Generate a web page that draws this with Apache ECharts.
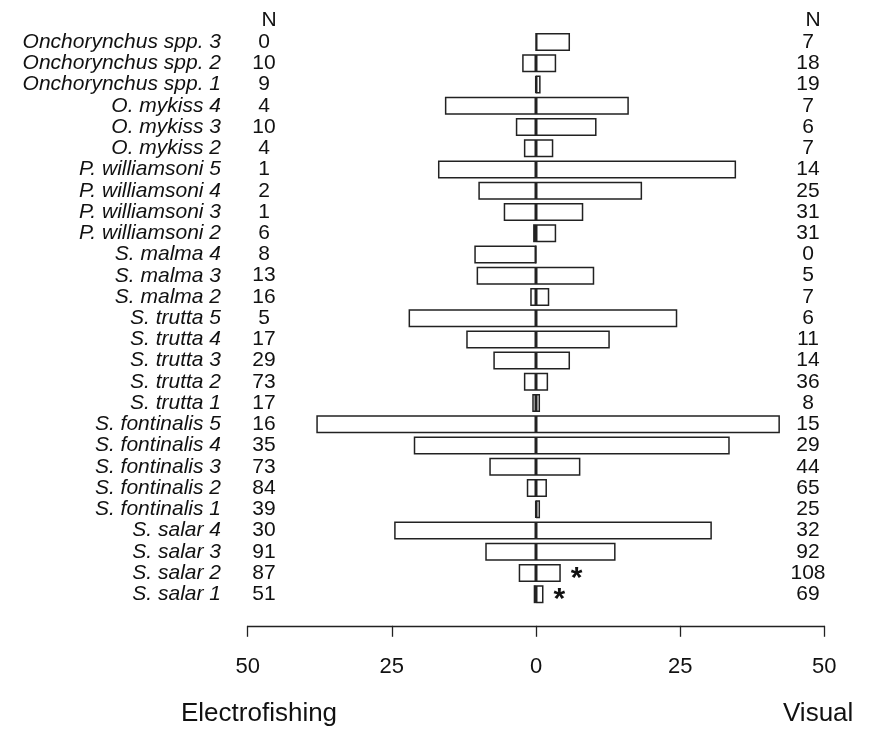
<!DOCTYPE html>
<html>
<head>
<meta charset="utf-8">
<script src="https://cdn.jsdelivr.net/npm/echarts@6/dist/echarts.min.js"></script>
<style>
  html, body { margin: 0; padding: 0; background: #fff; }
  #main { width: 874px; height: 730px; }
</style>
</head>
<body>
<div id="main"></div>
<script>
// rows from top to bottom
var species = [
  'Onchorynchus spp. 3', 'Onchorynchus spp. 2', 'Onchorynchus spp. 1',
  'O. mykiss 4', 'O. mykiss 3', 'O. mykiss 2',
  'P. williamsoni 5', 'P. williamsoni 4', 'P. williamsoni 3', 'P. williamsoni 2',
  'S. malma 4', 'S. malma 3', 'S. malma 2',
  'S. trutta 5', 'S. trutta 4', 'S. trutta 3', 'S. trutta 2', 'S. trutta 1',
  'S. fontinalis 5', 'S. fontinalis 4', 'S. fontinalis 3', 'S. fontinalis 2', 'S. fontinalis 1',
  'S. salar 4', 'S. salar 3', 'S. salar 2', 'S. salar 1'
];
var electro = [0, 2.4, 0.1, 15.8, 3.5, 2.1, 17.0, 10.0, 5.6, 0.5, 10.7, 10.3, 1.0,
  22.1, 12.1, 7.4, 2.1, 0.65, 38.1, 21.2, 8.1, 1.6, 0.1, 24.6, 8.8, 3.0, 0.4];
var visual = [5.9, 3.5, 0.8, 16.1, 10.5, 3.0, 34.7, 18.4, 8.2, 3.5, 0, 10.1, 2.3,
  24.5, 12.8, 5.9, 2.1, 0.7, 42.3, 33.6, 7.7, 1.9, 0.7, 30.5, 13.8, 4.3, 1.3];
var nElectro = [0, 10, 9, 4, 10, 4, 1, 2, 1, 6, 8, 13, 16, 5, 17, 29, 73, 17, 16, 35, 73, 84, 39, 30, 91, 87, 51];
var nVisual = [7, 18, 19, 7, 6, 7, 14, 25, 31, 31, 0, 5, 7, 6, 11, 14, 36, 8, 15, 29, 44, 65, 25, 32, 92, 108, 69];
var starred = ['S. salar 2', 'S. salar 1'];
var xTicks = [-50, -25, 0, 25, 50];

var font = 'Liberation Sans, Arial, sans-serif';
var ink = '#111';

var chart = echarts.init(document.getElementById('main'));

var barStyle = { color: '#fff', borderColor: '#222', borderWidth: 1.5 };

var visualData = visual.map(function (v, i) {
  if (starred.indexOf(species[i]) >= 0) {
    return {
      value: v,
      label: {
        show: true, position: 'right', formatter: '*', distance: 10,
        offset: [0, 6], fontSize: 30, fontWeight: 'bold', color: ink, fontFamily: font
      }
    };
  }
  return v;
});

var option = {
  animation: false,
  backgroundColor: '#fff',
  title: [
    { text: 'N', left: 264, top: 5, textAlign: 'center',
      textStyle: { fontSize: 21, fontWeight: 'normal', color: ink, fontFamily: font } },
    { text: 'N', left: 808, top: 5, textAlign: 'center',
      textStyle: { fontSize: 21, fontWeight: 'normal', color: ink, fontFamily: font } },
    { text: 'Electrofishing', left: 176, top: 696,
      textStyle: { fontSize: 26, fontWeight: 'normal', color: ink, fontFamily: font } },
    { text: 'Visual', left: 778, top: 696,
      textStyle: { fontSize: 26, fontWeight: 'normal', color: ink, fontFamily: font } }
  ],
  grid: { left: 247.7, right: 49.7, top: 31.5, height: 573.3 },
  xAxis: {
    type: 'value', min: -50, max: 50, interval: 25,
    offset: 21,
    axisLine: { show: true, lineStyle: { color: '#222', width: 1.3 } },
    axisTick: { show: true, length: 11, lineStyle: { color: '#222', width: 1.3 } },
    axisLabel: {
      fontSize: 22, color: ink, fontFamily: font, margin: 30,
      formatter: function (v) { return xTicks.indexOf(v) >= 0 ? String(Math.abs(v)) : ''; }
    },
    splitLine: { show: false }
  },
  yAxis: [
    {
      type: 'category', data: species, inverse: true, position: 'left',
      axisLine: { show: false }, axisTick: { show: false },
      axisLabel: { interval: 0, fontSize: 21, fontStyle: 'italic', color: ink, fontFamily: font, margin: 26.7 }
    },
    {
      type: 'category', data: species, inverse: true, position: 'left', offset: -16.3,
      axisLine: { show: false }, axisTick: { show: false },
      axisLabel: {
        interval: 0, fontSize: 21, color: ink, fontFamily: font, margin: 0, align: 'center',
        formatter: function (v, i) { return String(nElectro[i]); }
      }
    },
    {
      type: 'category', data: species, inverse: true, position: 'right', offset: -16.3,
      axisLine: { show: false }, axisTick: { show: false },
      axisLabel: {
        interval: 0, fontSize: 21, color: ink, fontFamily: font, margin: 0, align: 'center',
        formatter: function (v, i) { return String(nVisual[i]); }
      }
    }
  ],
  series: [
    {
      name: 'Electrofishing', type: 'bar', yAxisIndex: 0,
      data: electro.map(function (v) { return -v; }),
      barWidth: 18, barGap: '-100%', itemStyle: barStyle
    },
    {
      name: 'Visual', type: 'bar', yAxisIndex: 0,
      data: visualData,
      barWidth: 18, barGap: '-100%', itemStyle: barStyle
    }
  ]
};

chart.setOption(option);
</script>
</body>
</html>
